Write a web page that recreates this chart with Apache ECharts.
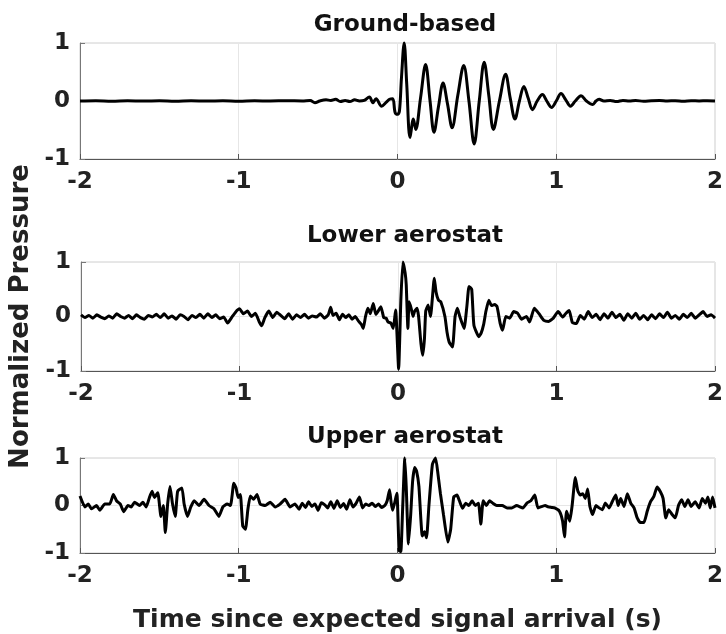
<!DOCTYPE html>
<html>
<head>
<meta charset="utf-8">
<script src="https://cdn.jsdelivr.net/npm/echarts@6/dist/echarts.min.js"></script>
<style>
html,body{margin:0;padding:0;background:#fff;}
#chart{width:726px;height:634px;}
</style>
</head>
<body>
<div id="chart"></div>
<script>
// ---- Data ----
var panelTitles = ["Ground-based", "Lower aerostat", "Upper aerostat"];
var xTicks = [-2, -1, 0, 1, 2];
var yTicks = [-1, 0, 1];
var xLabel = "Time since expected signal arrival (s)";
var yLabel = "Normalized Pressure";

// Ground-based
var groundT = [-2.0,-1.9,-1.8,-1.7,-1.6,-1.5,-1.4,-1.3,-1.2,-1.1,-1.0,-0.9,-0.8,-0.7,-0.6,
  -0.55,-0.52,-0.49,-0.45,-0.42,-0.39,-0.36,-0.33,-0.3,-0.27,-0.24,-0.21,
  -0.177,-0.155,-0.135,-0.1,-0.07,-0.05,-0.03,-0.015,0.0,0.012,0.025,0.042,0.058,0.079,0.1,0.115,
  0.145,0.177,0.205,0.23,0.258,0.287,0.315,0.344,0.38,0.417,0.45,0.483,0.515,0.546,0.575,0.604,
  0.642,0.681,0.71,0.74,0.768,0.796,0.823,0.85,0.88,0.913,0.94,0.97,1.0,1.03,1.06,1.09,1.12,1.156,
  1.19,1.23,1.25,1.27,1.3,1.34,1.38,1.42,1.46,1.5,1.55,1.6,1.65,1.7,1.75,1.8,1.85,1.9,1.95,2.0];
var groundV = [0,0.004,-0.004,0.004,0,0.004,-0.003,0.003,0,0.004,-0.004,0.004,0,0.005,0,
  0.01,-0.03,0.0,0.02,0.01,0.03,-0.01,0.01,-0.01,0.02,0.0,0.01,
  0.07,-0.03,0.04,-0.09,-0.02,0.03,0.04,-0.2,-0.23,-0.18,0.4,1.0,0.3,-0.63,-0.31,-0.49,
  0.05,0.63,0.0,-0.54,-0.1,0.31,-0.05,-0.46,0.1,0.61,0.0,-0.74,0.0,0.67,0.1,-0.49,
  0.0,0.46,0.05,-0.31,0.0,0.25,0.05,-0.15,0.0,0.11,0.0,-0.11,0.0,0.13,0.02,-0.09,0.0,0.09,
  0.0,-0.06,0.0,0.03,0.0,0.01,-0.01,0.01,0.0,0.01,-0.005,0.005,0.01,0.0,0.005,-0.005,0.005,0.0,0.005,0.0];

// Lower aerostat
var lowerT = [-2.0,-1.975,-1.95,-1.925,-1.9,-1.875,-1.85,-1.825,-1.8,-1.775,-1.75,-1.725,-1.7,-1.675,-1.65,-1.625,
  -1.6,-1.575,-1.55,-1.525,-1.5,-1.475,-1.45,-1.425,-1.4,-1.375,-1.35,-1.325,-1.3,-1.275,-1.25,-1.225,-1.2,
  -1.175,-1.15,-1.125,-1.1,-1.075,-1.05,-1.025,-1.0,-0.975,-0.95,-0.925,-0.9,-0.875,-0.86,-0.84,-0.815,-0.79,
  -0.765,-0.74,-0.715,-0.69,-0.665,-0.64,-0.615,-0.59,-0.565,-0.54,-0.515,-0.49,-0.465,-0.44,-0.425,-0.41,
  -0.39,-0.37,-0.35,-0.33,-0.31,-0.29,-0.27,-0.25,-0.23,-0.219,-0.205,-0.19,-0.175,-0.156,-0.14,-0.125,-0.108,
  -0.09,-0.075,-0.063,-0.045,-0.03,-0.015,0.004,0.018,0.031,0.045,0.052,0.0625,0.07,0.083,0.095,0.104,0.12,
  0.13,0.145,0.156,0.167,0.175,0.19,0.205,0.229,0.24,0.255,0.27,0.296,0.31,0.323,0.344,0.36,0.375,0.39,0.417,
  0.435,0.448,0.465,0.479,0.51,0.525,0.54,0.555,0.573,0.59,0.61,0.625,0.645,0.66,0.68,0.705,0.73,0.755,0.78,
  0.81,0.83,0.86,0.89,0.92,0.95,0.98,1.01,1.04,1.06,1.08,1.1,1.125,1.15,1.175,1.2,1.225,1.25,1.275,1.3,1.325,
  1.35,1.375,1.4,1.425,1.45,1.475,1.5,1.525,1.55,1.575,1.6,1.625,1.65,1.675,1.7,1.725,1.75,1.775,1.8,1.825,
  1.85,1.875,1.9,1.925,1.95,1.975,2.0];
var lowerV = [0.03,-0.02,0.02,-0.03,0.03,-0.01,-0.04,0.01,-0.03,0.05,0.0,-0.03,0.02,-0.04,0.03,-0.02,
  -0.05,0.02,-0.01,0.04,-0.02,0.05,-0.03,0.01,-0.05,0.03,0.0,-0.06,0.02,-0.02,0.04,-0.03,0.05,
  -0.02,0.03,-0.04,-0.01,-0.12,-0.02,0.08,0.14,0.05,0.1,0.0,0.06,-0.1,-0.17,-0.02,0.1,-0.02,
  0.08,0.02,-0.04,0.05,-0.05,0.03,-0.02,0.04,-0.03,0.01,-0.01,0.05,-0.03,0.03,0.17,0.02,
  0.06,-0.06,0.04,-0.02,0.03,-0.05,0.0,-0.08,-0.15,-0.22,0.0,0.15,0.05,0.24,0.04,0.1,0.18,
  -0.02,-0.03,-0.1,-0.12,-0.22,0.12,-0.96,0.3,1.0,0.8,0.58,-0.22,0.27,0.15,0.0,0.09,0.15,
  0.0,-0.5,-0.71,-0.4,0.1,0.21,0.0,0.7,0.45,0.3,0.27,0.0,-0.3,-0.47,-0.56,0.0,0.15,0.0,-0.22,
  0.2,0.55,0.5,-0.16,-0.37,-0.3,-0.15,0.1,0.3,0.2,0.22,0.18,-0.13,-0.25,0.0,-0.03,0.09,0.06,-0.05,
  0.0,-0.1,0.15,0.05,-0.07,-0.09,-0.03,0.09,-0.01,0.06,0.11,-0.11,-0.13,0.02,-0.05,0.09,-0.02,0.04,-0.06,0.05,-0.03,
  0.08,-0.02,0.04,-0.07,0.05,-0.03,0.06,-0.05,0.02,-0.06,0.03,-0.04,0.05,-0.02,0.08,-0.03,0.02,-0.05,0.04,-0.02,
  0.06,-0.03,0.03,0.09,0.0,0.03,-0.03];

// Upper aerostat
var upperT = [-2.0,-1.969,-1.948,-1.927,-1.896,-1.875,-1.844,-1.8125,-1.79,-1.77,-1.746,-1.725,-1.698,-1.677,
  -1.656,-1.625,-1.604,-1.583,-1.5625,-1.546,-1.531,-1.51,-1.49,-1.475,-1.4625,-1.448,-1.433,-1.417,-1.4,
  -1.385,-1.358,-1.344,-1.323,-1.302,-1.281,-1.25,-1.219,-1.1875,-1.156,-1.125,-1.1,-1.073,-1.052,-1.031,
  -1.017,-1.004,-0.99,-0.975,-0.958,-0.942,-0.927,-0.906,-0.885,-0.865,-0.833,-0.802,-0.771,-0.74,-0.708,
  -0.677,-0.646,-0.62,-0.6,-0.58,-0.56,-0.54,-0.52,-0.5,-0.48,-0.46,-0.44,-0.42,-0.4,-0.38,-0.36,-0.34,-0.32,
  -0.3,-0.28,-0.26,-0.24,-0.22,-0.2,-0.18,-0.16,-0.14,-0.12,-0.1,-0.08,-0.065,-0.05,-0.04,-0.03,-0.0042,0.01,
  0.021,0.032,0.046,0.055,0.069,0.083,0.095,0.108,0.12,0.135,0.156,0.17,0.183,0.198,0.22,0.24,0.255,0.27,0.29,
  0.317,0.335,0.354,0.375,0.39,0.41,0.43,0.45,0.47,0.49,0.51,0.525,0.54,0.56,0.58,0.6,0.625,0.66,0.69,0.72,
  0.75,0.79,0.815,0.84,0.865,0.885,0.93,0.95,0.97,0.99,1.02,1.04,1.052,1.065,1.085,1.1,1.12,1.135,1.15,1.167,
  1.183,1.198,1.212,1.229,1.25,1.27,1.29,1.31,1.333,1.354,1.375,1.39,1.406,1.427,1.448,1.469,1.49,1.51,1.53,
  1.552,1.573,1.594,1.615,1.635,1.656,1.673,1.69,1.708,1.73,1.75,1.77,1.79,1.81,1.83,1.85,1.875,1.9,1.92,
  1.94,1.955,1.97,1.985,2.0];
var upperV = [0.2,-0.03,0.03,-0.07,0.0,-0.1,0.03,0.03,0.23,0.1,0.03,-0.13,0.0,-0.03,
  0.07,0.0,0.07,-0.03,0.17,0.3,0.17,0.27,-0.23,0.0,-0.57,0.03,0.4,0.03,-0.23,
  0.3,0.37,0.03,-0.23,-0.03,0.1,0.0,0.13,0.0,-0.07,-0.23,-0.03,0.03,0.0,0.47,
  0.37,0.17,0.23,-0.43,-0.5,-0.07,0.2,0.13,0.23,0.03,0.0,0.07,-0.03,0.03,0.13,
  -0.03,0.03,-0.08,0.05,-0.04,0.08,-0.02,0.03,-0.1,0.06,0.02,-0.05,0.08,-0.06,0.1,-0.04,0.04,-0.08,
  0.12,-0.03,0.05,0.18,-0.05,0.03,0.0,0.05,-0.02,0.03,-0.04,0.0,0.1,0.33,0.06,-0.1,0.26,-0.95,
  -0.97,-0.1,1.0,0.4,-0.81,-0.2,0.5,0.8,0.73,0.4,-0.64,-0.55,-0.68,0.0,0.87,1.0,0.66,0.26,-0.2,
  -0.77,-0.5,0.18,0.22,0.1,-0.06,0.05,0.0,0.1,0.0,0.05,-0.39,0.1,0.0,0.1,0.05,0.0,0.0,-0.05,-0.05,
  0.0,-0.05,0.05,0.1,0.22,-0.05,0.0,-0.03,-0.04,-0.05,-0.12,-0.33,-0.66,-0.12,-0.33,0.0,0.59,0.32,0.22,0.25,
  0.15,0.35,-0.02,-0.19,0.0,-0.05,-0.09,0.05,-0.05,0.09,0.22,0.0,0.15,-0.02,0.25,0.05,-0.05,-0.26,-0.36,
  -0.36,-0.12,0.08,0.19,0.39,0.29,0.15,-0.26,-0.09,-0.19,-0.26,0.0,0.12,-0.02,0.12,-0.02,0.08,-0.05,0.15,
  0.05,0.18,-0.05,0.18,-0.05];

// ---- Chart ----
function zip(t, v) { var out = []; for (var i = 0; i < t.length; i++) out.push([t[i], v[i]]); return out; }

var FONT = "DejaVu Sans";
var grids = [
  {left: 80, right: 6, top: 43, height: 116},
  {left: 80, right: 6, top: 262, height: 109},
  {left: 80, right: 6, top: 458, height: 99}
];
var titleTops = [9, 220, 421];

var option = {
  animation: false,
  backgroundColor: "#ffffff",
  title: panelTitles.map(function (s, i) {
    return {text: s, left: 400, top: titleTops[i], textAlign: "center",
      textStyle: {fontFamily: FONT, fontWeight: "bold", fontSize: 23, color: "#111"}};
  }),
  grid: grids.map(function (g) {
    return {left: g.left, right: g.right, top: g.top, height: g.height, show: true,
      borderColor: "#cfcfcf", borderWidth: 1, backgroundColor: "transparent"};
  }),
  xAxis: grids.map(function (g, i) {
    return {
      type: "value", gridIndex: i, min: xTicks[0], max: xTicks[xTicks.length - 1], interval: 1,
      name: i === 2 ? xLabel : "", nameLocation: "middle", nameGap: 55,
      nameTextStyle: {fontFamily: FONT, fontWeight: "bold", fontSize: 25, color: "#222"},
      axisLine: {show: true, onZero: false, lineStyle: {color: "#555", width: 1}},
      axisTick: {show: true, inside: true, length: 5, lineStyle: {color: "#555"}},
      axisLabel: {fontFamily: FONT, fontWeight: "bold", fontSize: 23, color: "#222", margin: 12},
      splitLine: {show: true, lineStyle: {color: "#e6e6e6", width: 1}}
    };
  }),
  yAxis: grids.map(function (g, i) {
    return {
      type: "value", gridIndex: i, min: yTicks[0], max: yTicks[yTicks.length - 1], interval: 1,
      name: i === 1 ? yLabel : "", nameLocation: "middle", nameGap: 47, nameRotate: 90,
      nameTextStyle: {fontFamily: FONT, fontWeight: "bold", fontSize: 26, color: "#222"},
      axisLine: {show: true, onZero: false, lineStyle: {color: "#777", width: 1}},
      axisTick: {show: true, inside: true, length: 5, lineStyle: {color: "#777"}},
      axisLabel: {fontFamily: FONT, fontWeight: "bold", fontSize: 23, color: "#222", margin: 10},
      splitLine: {show: true, lineStyle: {color: "#e6e6e6", width: 1}}
    };
  }),
  series: [
    {type: "line", xAxisIndex: 0, yAxisIndex: 0, data: zip(groundT, groundV), showSymbol: false,
      smooth: 0.35, lineStyle: {color: "#000", width: 3}, clip: false},
    {type: "line", xAxisIndex: 1, yAxisIndex: 1, data: zip(lowerT, lowerV), showSymbol: false,
      smooth: 0.15, lineStyle: {color: "#000", width: 3}, clip: false},
    {type: "line", xAxisIndex: 2, yAxisIndex: 2, data: zip(upperT, upperV), showSymbol: false,
      smooth: 0.15, lineStyle: {color: "#000", width: 3}, clip: false}
  ]
};

var chart = echarts.init(document.getElementById("chart"), null, {renderer: "canvas"});
chart.setOption(option);
</script>
</body>
</html>
